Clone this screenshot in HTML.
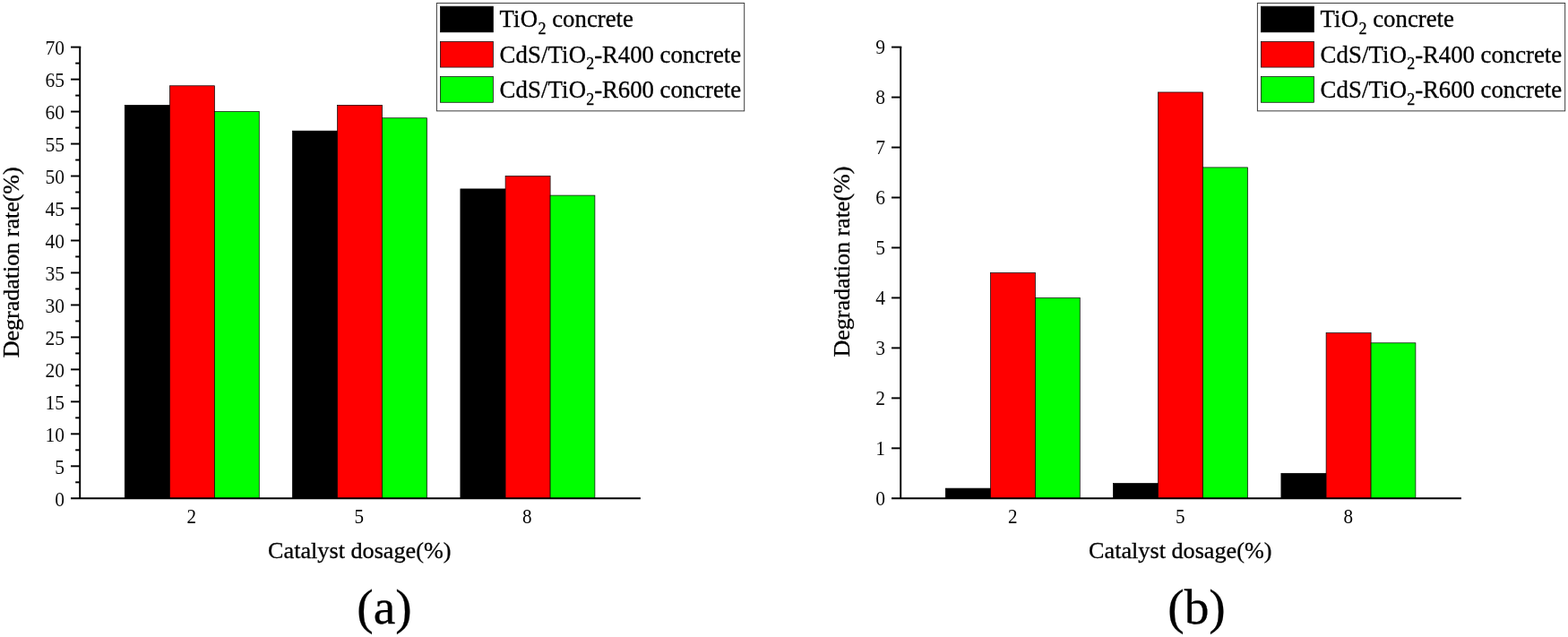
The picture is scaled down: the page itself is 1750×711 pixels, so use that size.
<!DOCTYPE html>
<html lang="en">
<head>
<meta charset="utf-8">
<title>Degradation rate vs catalyst dosage</title>
<style>
html,body{margin:0;padding:0;background:#fff;}
body{width:1750px;height:711px;overflow:hidden;}
svg{display:block;}
text{font-family:"Liberation Serif",serif;fill:#000;}
.yt{font-size:22.8px;fill:#0d0d0d;}
.xt{font-size:22.2px;}
.lab{font-size:26.2px;stroke:#000;stroke-width:0.3px;}
.ylab{font-size:26px;}
.leg{font-size:26.8px;stroke:#000;stroke-width:0.3px;}
.sub{font-size:18px;}
.cap{font-size:55.4px;stroke:#000;stroke-width:0.3px;}
</style>
</head>
<body>
<svg width="1750" height="711" viewBox="0 0 1750 711">
<rect width="1750" height="711" fill="#fff"/>
<g>
<rect x="139.25" y="117.36" width="50.20" height="438.94" fill="#000000" stroke="#000" stroke-width="0.7"/>
<rect x="189.45" y="95.77" width="50.00" height="460.53" fill="#ff0000" stroke="#000" stroke-width="0.7"/>
<rect x="239.45" y="124.56" width="49.80" height="431.74" fill="#00ff00" stroke="#000" stroke-width="0.7"/>
<rect x="326.40" y="146.14" width="50.20" height="410.16" fill="#000000" stroke="#000" stroke-width="0.7"/>
<rect x="376.60" y="117.36" width="50.00" height="438.94" fill="#ff0000" stroke="#000" stroke-width="0.7"/>
<rect x="426.60" y="131.75" width="49.80" height="424.55" fill="#00ff00" stroke="#000" stroke-width="0.7"/>
<rect x="513.90" y="210.91" width="50.20" height="345.39" fill="#000000" stroke="#000" stroke-width="0.7"/>
<rect x="564.10" y="196.51" width="50.00" height="359.79" fill="#ff0000" stroke="#000" stroke-width="0.7"/>
<rect x="614.10" y="218.10" width="49.80" height="338.20" fill="#00ff00" stroke="#000" stroke-width="0.7"/>
<path d="M79.00 52.60H90.25" stroke="#000" stroke-width="1.95" fill="none"/>
<path d="M89.20 52.60V556.30" stroke="#000" stroke-width="1.95" fill="none"/>
<path d="M79.00 556.30H714.90" stroke="#000" stroke-width="1.95" fill="none"/>
<text class="yt" transform="translate(72.10 564.60) scale(0.945 1)" text-anchor="end">0</text>
<path d="M84.20 538.31H89.20" stroke="#000" stroke-width="1.95"/>
<path d="M79.00 520.32H89.20" stroke="#000" stroke-width="1.95"/>
<text class="yt" transform="translate(72.10 528.62) scale(0.945 1)" text-anchor="end">5</text>
<path d="M84.20 502.33H89.20" stroke="#000" stroke-width="1.95"/>
<path d="M79.00 484.34H89.20" stroke="#000" stroke-width="1.95"/>
<text class="yt" transform="translate(72.10 492.64) scale(0.945 1)" text-anchor="end">10</text>
<path d="M84.20 466.35H89.20" stroke="#000" stroke-width="1.95"/>
<path d="M79.00 448.36H89.20" stroke="#000" stroke-width="1.95"/>
<text class="yt" transform="translate(72.10 456.66) scale(0.945 1)" text-anchor="end">15</text>
<path d="M84.20 430.38H89.20" stroke="#000" stroke-width="1.95"/>
<path d="M79.00 412.39H89.20" stroke="#000" stroke-width="1.95"/>
<text class="yt" transform="translate(72.10 420.69) scale(0.945 1)" text-anchor="end">20</text>
<path d="M84.20 394.40H89.20" stroke="#000" stroke-width="1.95"/>
<path d="M79.00 376.41H89.20" stroke="#000" stroke-width="1.95"/>
<text class="yt" transform="translate(72.10 384.71) scale(0.945 1)" text-anchor="end">25</text>
<path d="M84.20 358.42H89.20" stroke="#000" stroke-width="1.95"/>
<path d="M79.00 340.43H89.20" stroke="#000" stroke-width="1.95"/>
<text class="yt" transform="translate(72.10 348.73) scale(0.945 1)" text-anchor="end">30</text>
<path d="M84.20 322.44H89.20" stroke="#000" stroke-width="1.95"/>
<path d="M79.00 304.45H89.20" stroke="#000" stroke-width="1.95"/>
<text class="yt" transform="translate(72.10 312.75) scale(0.945 1)" text-anchor="end">35</text>
<path d="M84.20 286.46H89.20" stroke="#000" stroke-width="1.95"/>
<path d="M79.00 268.47H89.20" stroke="#000" stroke-width="1.95"/>
<text class="yt" transform="translate(72.10 276.77) scale(0.945 1)" text-anchor="end">40</text>
<path d="M84.20 250.48H89.20" stroke="#000" stroke-width="1.95"/>
<path d="M79.00 232.49H89.20" stroke="#000" stroke-width="1.95"/>
<text class="yt" transform="translate(72.10 240.79) scale(0.945 1)" text-anchor="end">45</text>
<path d="M84.20 214.50H89.20" stroke="#000" stroke-width="1.95"/>
<path d="M79.00 196.51H89.20" stroke="#000" stroke-width="1.95"/>
<text class="yt" transform="translate(72.10 204.81) scale(0.945 1)" text-anchor="end">50</text>
<path d="M84.20 178.53H89.20" stroke="#000" stroke-width="1.95"/>
<path d="M79.00 160.54H89.20" stroke="#000" stroke-width="1.95"/>
<text class="yt" transform="translate(72.10 168.84) scale(0.945 1)" text-anchor="end">55</text>
<path d="M84.20 142.55H89.20" stroke="#000" stroke-width="1.95"/>
<path d="M79.00 124.56H89.20" stroke="#000" stroke-width="1.95"/>
<text class="yt" transform="translate(72.10 132.86) scale(0.945 1)" text-anchor="end">60</text>
<path d="M84.20 106.57H89.20" stroke="#000" stroke-width="1.95"/>
<path d="M79.00 88.58H89.20" stroke="#000" stroke-width="1.95"/>
<text class="yt" transform="translate(72.10 96.88) scale(0.945 1)" text-anchor="end">65</text>
<path d="M84.20 70.59H89.20" stroke="#000" stroke-width="1.95"/>
<text class="yt" transform="translate(72.10 60.90) scale(0.945 1)" text-anchor="end">70</text>
<text class="xt" transform="translate(213.70 584.0) scale(0.95 1)" text-anchor="middle">2</text>
<text class="xt" transform="translate(400.85 584.0) scale(0.95 1)" text-anchor="middle">5</text>
<text class="xt" transform="translate(588.35 584.0) scale(0.95 1)" text-anchor="middle">8</text>
<text class="lab" x="401.30" y="623.4" text-anchor="middle">Catalyst dosage(%)</text>
<text class="lab ylab" transform="translate(21.30 292.80) rotate(-90)" text-anchor="middle">Degradation rate(%)</text>
<text class="cap" x="429.10" y="696.0" text-anchor="middle">(a)</text>
<rect x="487.40" y="3.45" width="343.3" height="120.4" fill="#fff" stroke="#3c3c3c" stroke-width="1"/>
<rect x="491.35" y="7.15" width="59.0" height="28.7" fill="#000000" stroke="#000" stroke-width="0.7"/>
<text class="leg" x="557.40" y="30.40"><tspan letter-spacing="0.3">TiO</tspan><tspan class="sub" dy="7.4">2</tspan><tspan dy="-7.4" letter-spacing="0"> concrete</tspan></text>
<rect x="491.35" y="46.35" width="59.0" height="28.7" fill="#ff0000" stroke="#000" stroke-width="0.7"/>
<text class="leg" x="557.40" y="69.70"><tspan letter-spacing="0.13">CdS/TiO</tspan><tspan class="sub" dy="7.4">2</tspan><tspan dy="-7.4" letter-spacing="-0.04">-R400 concrete</tspan></text>
<rect x="491.35" y="85.55" width="59.0" height="28.7" fill="#00ff00" stroke="#000" stroke-width="0.7"/>
<text class="leg" x="557.40" y="109.20"><tspan letter-spacing="0.13">CdS/TiO</tspan><tspan class="sub" dy="7.4">2</tspan><tspan dy="-7.4" letter-spacing="-0.04">-R600 concrete</tspan></text>
</g>
<g>
<rect x="1055.25" y="545.11" width="50.20" height="11.19" fill="#000000" stroke="#000" stroke-width="0.7"/>
<rect x="1105.45" y="304.45" width="50.00" height="251.85" fill="#ff0000" stroke="#000" stroke-width="0.7"/>
<rect x="1155.45" y="332.43" width="49.80" height="223.87" fill="#00ff00" stroke="#000" stroke-width="0.7"/>
<rect x="1242.40" y="539.51" width="50.20" height="16.79" fill="#000000" stroke="#000" stroke-width="0.7"/>
<rect x="1292.60" y="102.97" width="50.00" height="453.33" fill="#ff0000" stroke="#000" stroke-width="0.7"/>
<rect x="1342.60" y="186.92" width="49.80" height="369.38" fill="#00ff00" stroke="#000" stroke-width="0.7"/>
<rect x="1429.90" y="528.32" width="50.20" height="27.98" fill="#000000" stroke="#000" stroke-width="0.7"/>
<rect x="1480.10" y="371.61" width="50.00" height="184.69" fill="#ff0000" stroke="#000" stroke-width="0.7"/>
<rect x="1530.10" y="382.80" width="49.80" height="173.50" fill="#00ff00" stroke="#000" stroke-width="0.7"/>
<path d="M995.00 52.60H1006.25" stroke="#000" stroke-width="1.95" fill="none"/>
<path d="M1005.20 52.60V556.30" stroke="#000" stroke-width="1.95" fill="none"/>
<path d="M995.00 556.30H1630.90" stroke="#000" stroke-width="1.95" fill="none"/>
<text class="yt" transform="translate(988.10 564.00) scale(0.945 1)" text-anchor="end">0</text>
<path d="M995.00 500.33H1005.20" stroke="#000" stroke-width="1.95"/>
<text class="yt" transform="translate(988.10 508.03) scale(0.945 1)" text-anchor="end">1</text>
<path d="M995.00 444.37H1005.20" stroke="#000" stroke-width="1.95"/>
<text class="yt" transform="translate(988.10 452.07) scale(0.945 1)" text-anchor="end">2</text>
<path d="M995.00 388.40H1005.20" stroke="#000" stroke-width="1.95"/>
<text class="yt" transform="translate(988.10 396.10) scale(0.945 1)" text-anchor="end">3</text>
<path d="M995.00 332.43H1005.20" stroke="#000" stroke-width="1.95"/>
<text class="yt" transform="translate(988.10 340.13) scale(0.945 1)" text-anchor="end">4</text>
<path d="M995.00 276.47H1005.20" stroke="#000" stroke-width="1.95"/>
<text class="yt" transform="translate(988.10 284.17) scale(0.945 1)" text-anchor="end">5</text>
<path d="M995.00 220.50H1005.20" stroke="#000" stroke-width="1.95"/>
<text class="yt" transform="translate(988.10 228.20) scale(0.945 1)" text-anchor="end">6</text>
<path d="M995.00 164.53H1005.20" stroke="#000" stroke-width="1.95"/>
<text class="yt" transform="translate(988.10 172.23) scale(0.945 1)" text-anchor="end">7</text>
<path d="M995.00 108.57H1005.20" stroke="#000" stroke-width="1.95"/>
<text class="yt" transform="translate(988.10 116.27) scale(0.945 1)" text-anchor="end">8</text>
<text class="yt" transform="translate(988.10 60.30) scale(0.945 1)" text-anchor="end">9</text>
<text class="xt" transform="translate(1130.20 584.0) scale(0.95 1)" text-anchor="middle">2</text>
<text class="xt" transform="translate(1317.35 584.0) scale(0.95 1)" text-anchor="middle">5</text>
<text class="xt" transform="translate(1504.85 584.0) scale(0.95 1)" text-anchor="middle">8</text>
<text class="lab" x="1317.30" y="623.4" text-anchor="middle">Catalyst dosage(%)</text>
<text class="lab ylab" transform="translate(947.70 292.10) rotate(-90)" text-anchor="middle">Degradation rate(%)</text>
<text class="cap" x="1335.50" y="696.0" text-anchor="middle">(b)</text>
<rect x="1403.40" y="3.45" width="343.3" height="120.4" fill="#fff" stroke="#3c3c3c" stroke-width="1"/>
<rect x="1407.35" y="7.15" width="59.0" height="28.7" fill="#000000" stroke="#000" stroke-width="0.7"/>
<text class="leg" x="1473.40" y="30.40"><tspan letter-spacing="0.3">TiO</tspan><tspan class="sub" dy="7.4">2</tspan><tspan dy="-7.4" letter-spacing="0"> concrete</tspan></text>
<rect x="1407.35" y="46.35" width="59.0" height="28.7" fill="#ff0000" stroke="#000" stroke-width="0.7"/>
<text class="leg" x="1473.40" y="69.70"><tspan letter-spacing="0.13">CdS/TiO</tspan><tspan class="sub" dy="7.4">2</tspan><tspan dy="-7.4" letter-spacing="-0.04">-R400 concrete</tspan></text>
<rect x="1407.35" y="85.55" width="59.0" height="28.7" fill="#00ff00" stroke="#000" stroke-width="0.7"/>
<text class="leg" x="1473.40" y="109.20"><tspan letter-spacing="0.13">CdS/TiO</tspan><tspan class="sub" dy="7.4">2</tspan><tspan dy="-7.4" letter-spacing="-0.04">-R600 concrete</tspan></text>
</g>
</svg>
</body>
</html>
